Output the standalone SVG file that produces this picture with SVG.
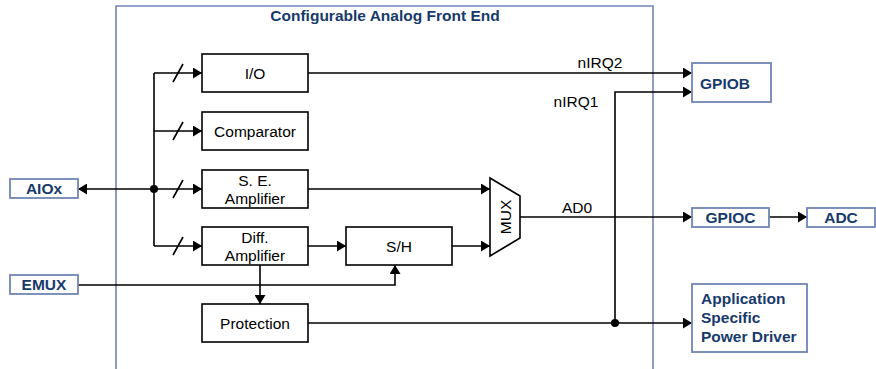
<svg xmlns="http://www.w3.org/2000/svg" width="876" height="369" viewBox="0 0 876 369">
<defs>
<style>
.bx{fill:#fff;stroke:#000;stroke-width:1.6}
.bb{fill:#fff;stroke:#7086b6;stroke-width:1.8}
.t{font-family:"Liberation Sans",Arial,sans-serif;font-size:15.5px;fill:#000;text-anchor:middle}
.tb{font-family:"Liberation Sans",Arial,sans-serif;font-size:15.5px;font-weight:bold;fill:#163a6b}
.ln{fill:none;stroke:#000;stroke-width:1.6}
.ar{marker-end:url(#ah)}
</style>
<marker id="ah" markerUnits="userSpaceOnUse" markerWidth="9" markerHeight="11" refX="9" refY="5.5" orient="auto">
<path d="M0,0 L9,5.5 L0,11 z" fill="#000"/>
</marker>
</defs>
<g id="frame">
<path d="M116,375 V6 H653 V375" fill="none" stroke="#7086b6" stroke-width="1.6"/>
<text class="tb" x="385" y="21" text-anchor="middle">Configurable Analog Front End</text>
</g>
<g id="connectors">
<path class="ln" d="M154,73 V246"/>
<path class="ln ar" d="M154,73 H202"/>
<path class="ln ar" d="M154,131 H202"/>
<path class="ln ar" d="M154,189 H202"/>
<path class="ln ar" d="M154,246 H202"/>
<path class="ln" d="M173,82 L183,64 M173,140 L183,122 M173,198 L183,180 M173,255 L183,237"/>
<path class="ln ar" d="M154,189 H78"/>
<circle cx="154" cy="189" r="4"/>
<path class="ln ar" d="M308,73 H692"/>
<path class="ln ar" d="M308,189 H490"/>
<path class="ln ar" d="M308,246 H346"/>
<path class="ln ar" d="M452,246 H490"/>
<path class="ln ar" d="M260,265 V304"/>
<path class="ln ar" d="M78,285 H395 V265"/>
<path class="ln ar" d="M520,217 H692"/>
<path class="ln ar" d="M769,217 H807"/>
<path class="ln ar" d="M308,323 H692"/>
<path class="ln ar" d="M615,323 V92 H692"/>
<circle cx="615" cy="323" r="4"/>
<text class="t" x="600" y="68">nIRQ2</text>
<text class="t" x="576" y="107">nIRQ1</text>
<text class="t" x="577" y="213">AD0</text>
</g>
<g id="io"><rect class="bx" x="202" y="54" width="106" height="38"/><text class="t" x="255" y="79">I/O</text></g>
<g id="comparator"><rect class="bx" x="202" y="112" width="106" height="38"/><text class="t" x="255" y="137">Comparator</text></g>
<g id="se-amp"><rect class="bx" x="202" y="170" width="106" height="38"/><text class="t" x="255" y="186">S. E.</text><text class="t" x="255" y="203.5">Amplifier</text></g>
<g id="diff-amp"><rect class="bx" x="202" y="227" width="106" height="38"/><text class="t" x="255" y="243">Diff.</text><text class="t" x="255" y="260.5">Amplifier</text></g>
<g id="protection"><rect class="bx" x="202" y="304" width="106" height="38"/><text class="t" x="255" y="329">Protection</text></g>
<g id="sh"><rect class="bx" x="346" y="227" width="106" height="38"/><text class="t" x="399" y="252">S/H</text></g>
<g id="mux"><path class="bx" d="M490,178 L520,196 V238 L490,256 Z"/><text class="t" transform="translate(510.5,217) rotate(-90)">MUX</text></g>
<g id="aiox"><rect class="bb" x="10" y="179" width="68" height="19"/><text class="tb" x="44" y="194" text-anchor="middle">AIOx</text></g>
<g id="emux"><rect class="bb" x="10" y="275" width="68" height="19"/><text class="tb" x="44" y="290" text-anchor="middle">EMUX</text></g>
<g id="gpiob"><rect class="bb" x="692" y="63" width="79" height="39"/><text class="tb" x="700" y="89">GPIOB</text></g>
<g id="gpioc"><rect class="bb" x="692" y="208" width="77" height="19"/><text class="tb" x="730.5" y="223" text-anchor="middle">GPIOC</text></g>
<g id="adc"><rect class="bb" x="807" y="208" width="68" height="19"/><text class="tb" x="841" y="223" text-anchor="middle">ADC</text></g>
<g id="power-driver"><rect class="bb" x="692" y="284" width="115" height="68"/><text class="tb" x="701" y="304">Application</text><text class="tb" x="701" y="323">Specific</text><text class="tb" x="701" y="342">Power Driver</text></g>
</svg>
